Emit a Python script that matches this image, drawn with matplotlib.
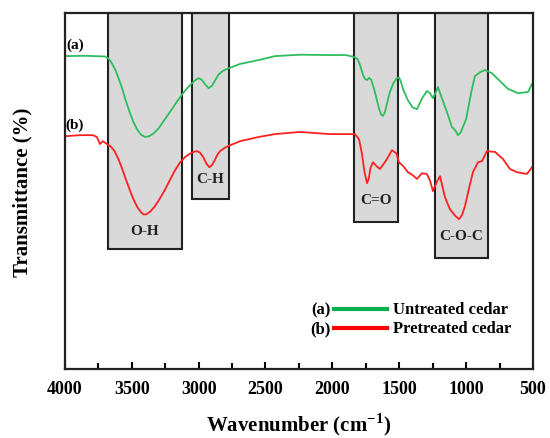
import matplotlib
matplotlib.use("Agg")
import matplotlib.pyplot as plt
from matplotlib.patches import Rectangle
from matplotlib.ticker import MultipleLocator

plt.rcParams['font.family'] = ['Liberation Serif', 'DejaVu Serif']
plt.rcParams['font.weight'] = 'bold'
plt.rcParams['axes.labelweight'] = 'bold'
plt.rcParams['mathtext.fontset'] = 'custom'
plt.rcParams['mathtext.rm'] = 'Liberation Serif:bold'
plt.rcParams['mathtext.bf'] = 'Liberation Serif:bold'

# (a) untreated cedar
wn_a = [4000, 3850, 3700, 3680, 3660, 3640, 3620, 3600, 3575, 3550, 3520, 3490,
        3460, 3430, 3400, 3370, 3340, 3300, 3250, 3200, 3150, 3100, 3050, 3020,
        2998, 2975, 2950, 2925, 2900, 2875, 2850, 2820, 2788, 2691, 2550,
        2429, 2242, 2018, 1900, 1831, 1810, 1790, 1770, 1756, 1740, 1725, 1710,
        1690, 1670, 1650, 1635, 1622, 1608, 1590, 1570, 1545, 1520, 1502, 1490,
        1470, 1435, 1400, 1367, 1330, 1293, 1270, 1248, 1230,
        1210, 1180, 1143, 1106, 1080, 1061, 1040, 1000, 960, 934, 890, 859, 807,
        750, 687, 612, 537, 507]
t_a = [87.9, 88.0, 87.8, 87.4, 86.6, 85.3, 83.8, 81.8, 79.2, 76.0, 72.6, 69.6,
       67.3, 65.8, 65.2, 65.4, 66.1, 67.6, 70.3, 73.0, 75.8, 78.3, 80.3, 81.3,
       81.7, 81.2, 79.9, 78.9, 79.6, 81.2, 82.8, 83.7, 84.3, 85.7, 86.8,
       87.9, 88.3, 88.2, 88.2, 87.6, 87.0, 85.0, 82.5, 81.5, 81.2, 81.8, 81.3,
       79.0, 76.0, 73.0, 71.5, 71.1, 72.0, 74.8, 77.8, 80.2, 81.6, 81.9, 81.0,
       78.5, 75.5, 73.5, 73.0, 76.0, 78.1, 77.5, 76.1, 77.5,
       79.2, 76.0, 72.2, 68.0, 67.0, 65.7, 66.5, 70.2, 78.0, 82.3, 83.5, 84.0,
       83.1, 81.0, 78.7, 77.5, 77.8, 80.1]

# (b) pretreated cedar
wn_b = [4000, 3888, 3791, 3761, 3738, 3716, 3686, 3660, 3630, 3600, 3575, 3550,
        3520, 3490, 3460, 3430, 3410, 3390, 3360, 3330, 3300, 3260, 3220, 3180,
        3140, 3100, 3060, 3030, 3010, 2990, 2965, 2940, 2920, 2900, 2880, 2860,
        2840, 2810, 2788, 2691, 2550, 2429, 2242, 2018, 1900, 1831, 1800, 1779,
        1760, 1741, 1728, 1715, 1696, 1670, 1644, 1600, 1554, 1520, 1502, 1470,
        1435, 1400, 1367, 1330, 1293, 1270, 1248, 1220, 1195, 1158, 1121, 1080,
        1053, 1030, 1008, 980, 949, 911, 881, 844, 784, 724, 672, 620, 545, 507]
t_b = [65.4, 65.7, 65.7, 65.2, 63.2, 64.0, 63.2, 62.6, 61.3, 59.0, 56.6, 53.9,
       50.8, 47.9, 45.6, 44.0, 43.4, 43.5, 44.3, 45.6, 47.3, 49.8, 52.7, 55.6,
       58.0, 59.6, 60.6, 61.1, 61.2, 60.8, 59.5, 57.6, 56.7, 57.3, 58.6, 60.2,
       61.2, 62.0, 62.5, 64.0, 65.2, 66.0, 66.6, 66.0, 66.0, 66.0, 64.5, 60.5,
       55.5, 52.2, 53.5, 56.5, 58.1, 57.0, 56.2, 58.5, 61.5, 60.5, 58.1, 57.0,
       55.3, 54.5, 53.4, 55.0, 54.8, 53.0, 50.0, 52.5, 54.2, 48.3, 44.9, 43.0,
       42.1, 43.3, 45.8, 50.5, 55.3, 58.1, 58.4, 61.2, 61.0, 59.0, 56.2, 55.3,
       54.8, 56.7]

# shaded band regions
band_labels = ['O-H', 'C-H', 'C=O', 'C-O-C']
band_hi = [3678, 3050, 1839, 1233]
band_lo = [3125, 2774, 1510, 836]
band_bottom = [33.7, 47.8, 41.3, 31.2]
band_text_y = [38.8, 53.4, 47.5, 37.6]

fig, ax = plt.subplots(figsize=(5.5, 4.39), dpi=100)
fig.subplots_adjust(left=0.118, right=0.969, bottom=0.157, top=0.968)

for lo, hi, bot in zip(band_lo, band_hi, band_bottom):
    ax.add_patch(Rectangle((lo, bot), hi - lo, 100 - bot, facecolor='#d9d9d9',
                           edgecolor='#222222', lw=1.5, zorder=1))

ax.plot(wn_a, t_a, color='#2ebd5e', lw=1.3, zorder=2)
ax.plot(wn_b, t_b, color='#ff2020', lw=1.3, zorder=2)

for lab, lo, hi, ty in zip(band_labels, band_lo, band_hi, band_text_y):
    ax.text((lo + hi) / 2, ty, lab, ha='center', va='center', fontsize=11,
            color='#222222', zorder=3)

ax.text(3925, 91.3, '(a)', ha='center', va='center', fontsize=11)
ax.text(3925, 68.8, '(b)', ha='center', va='center', fontsize=11)

# legend
ax.plot([0.575, 0.688], [0.169, 0.169], color='#00b050', lw=3, transform=ax.transAxes)
ax.plot([0.575, 0.688], [0.115, 0.115], color='#ff0000', lw=3, transform=ax.transAxes)
ax.text(0.568, 0.169, '(a)', ha='right', va='center', fontsize=12, transform=ax.transAxes)
ax.text(0.568, 0.115, '(b)', ha='right', va='center', fontsize=12, transform=ax.transAxes)
ax.text(0.700, 0.169, 'Untreated cedar', ha='left', va='center', fontsize=12,
        transform=ax.transAxes)
ax.text(0.700, 0.115, 'Pretreated cedar', ha='left', va='center', fontsize=12,
        transform=ax.transAxes)

ax.set_xlim(4000, 500)
ax.set_ylim(0, 100)
ax.xaxis.set_major_locator(MultipleLocator(500))
ax.xaxis.set_minor_locator(MultipleLocator(250))
ax.tick_params(axis='x', which='major', direction='in', length=5, width=1.5,
               labelsize=13, pad=8)
ax.tick_params(axis='x', which='minor', direction='in', length=4, width=1.5)
ax.set_yticks([])
for s in ax.spines.values():
    s.set_linewidth(1.6)
    s.set_color('#222222')

ax.set_xlabel(r'Wavenumber (cm$^{-1}$)', fontsize=15, fontweight='bold')
ax.set_ylabel('Transmittance (%)', fontsize=15, fontweight='bold')
ax.xaxis.set_label_coords(0.5, -0.115)
ax.yaxis.set_label_coords(-0.07, 0.5)

fig.savefig('out.png', dpi=100)
